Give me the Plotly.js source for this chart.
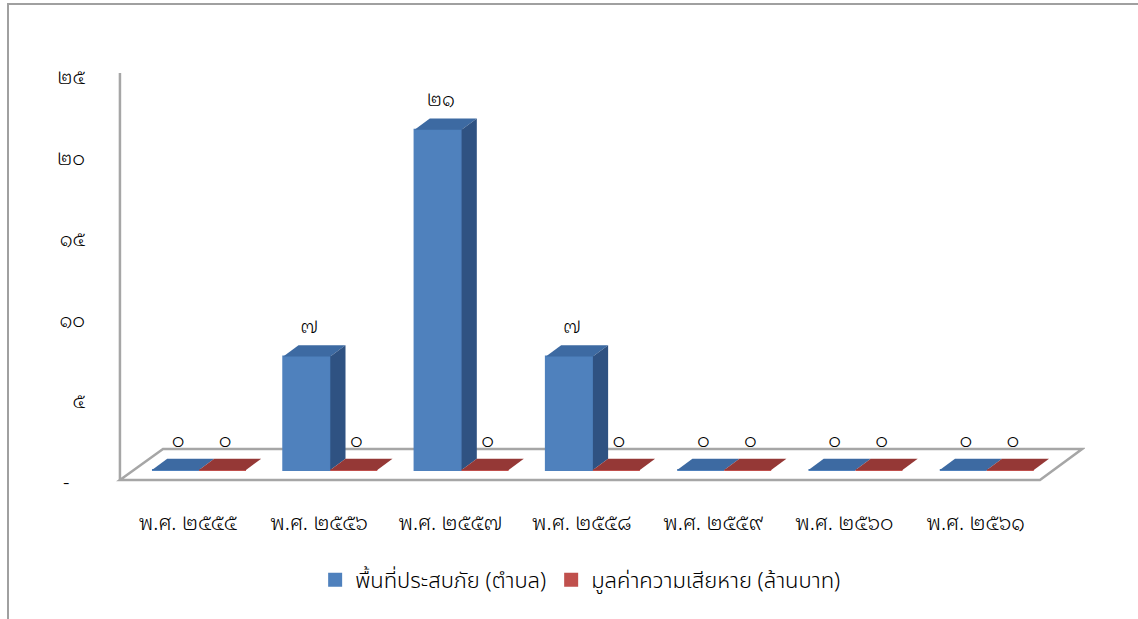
<!DOCTYPE html>
<html>
<head>
<meta charset="utf-8">
<script src="https://cdn.plot.ly/plotly-3.0.1.min.js"></script>
<style>
  html, body { margin: 0; padding: 0; background: #fff; }
  #frame { position: absolute; left: 7px; top: 3px; width: 1131px; height: 616px;
           border-left: 2px solid #a0a0a0; border-top: 2px solid #a0a0a0; box-sizing: border-box; }
  #chart { position: absolute; left: 0; top: 0; width: 1138px; height: 619px; }
</style>
</head>
<body>
<div id="frame"></div>
<div id="chart"></div>
<script>
// ---- data ----
const categories = ['พ.ศ. ๒๕๕๕', 'พ.ศ. ๒๕๕๖', 'พ.ศ. ๒๕๕๗', 'พ.ศ. ๒๕๕๘', 'พ.ศ. ๒๕๕๙', 'พ.ศ. ๒๕๖๐', 'พ.ศ. ๒๕๖๑'];
const areaValues = [0, 7, 21, 7, 0, 0, 0];      // พื้นที่ประสบภัย (ตำบล)
const damageValues = [0, 0, 0, 0, 0, 0, 0];     // มูลค่าความเสียหาย (ล้านบาท)
const areaLabels = ['๐', '๗', '๒๑', '๗', '๐', '๐', '๐'];
const damageLabels = ['๐', '๐', '๐', '๐', '๐', '๐', '๐'];
const seriesNames = ['พื้นที่ประสบภัย (ตำบล)', 'มูลค่าความเสียหาย (ล้านบาท)'];
const yTickVals = [0, 5, 10, 15, 20, 25];
const yTickText = ['-\u00a0\u00a0\u00a0', '๕', '๑๐', '๑๕', '๒๐', '๒๕'];

// ---- style / geometry ----
const FONT = '"Noto Sans Thai Looped", "Noto Serif Thai", Loma, Garuda, Norasi, Kinnari, Waree, "TlwgTypo", "Noto Sans Thai", Tahoma, "DejaVu Sans", sans-serif';
const LFONT = '"Noto Sans Thai", Tahoma, "DejaVu Sans", sans-serif';
const BW = 0.358;          // bar width (category units)
const OFF_A = -0.274;      // offset of first series
const OFF_B = OFF_A + BW;  // offset of second series
const DX = 0.116;          // depth x
const DY = 0.70;           // depth y
const xRange = [-0.548, 6.832];
const yRange = [-1.111, 25.31];
const LABEL_SHIFT = 0.74;

const colors = {
  a: { front: '#4F81BD', top: '#3D6AA2', side: '#2F5282' },
  b: { front: '#C0504D', top: '#953836', side: '#7A2C2A' }
};

const traces = [];
const n = categories.length;

function addFaces(values, off, c) {
  values.forEach((v, i) => {
    const x0 = i + off, x1 = x0 + BW;
    traces.push({
      x: [x0, x0 + DX, x1 + DX, x1, x0], y: [v, v + DY, v + DY, v, v],
      mode: 'lines', fill: 'toself', fillcolor: c.top, line: { width: 0, color: c.top },
      hoverinfo: 'skip', showlegend: false
    });
    if (v > 0) {
      traces.push({
        x: [x1, x1 + DX, x1 + DX, x1, x1], y: [0, DY, v + DY, v, 0],
        mode: 'lines', fill: 'toself', fillcolor: c.side, line: { width: 0, color: c.side },
        hoverinfo: 'skip', showlegend: false
      });
    }
  });
}

traces.push({
  type: 'bar', name: seriesNames[0], x: categories.map((_, i) => i), y: areaValues,
  offset: OFF_A, width: BW, marker: { color: colors.a.front, line: { color: colors.a.front, width: 2 } },
  hoverinfo: 'y'
});
traces.push({
  type: 'bar', name: seriesNames[1], x: categories.map((_, i) => i), y: damageValues,
  offset: OFF_B, width: BW, marker: { color: colors.b.front, line: { color: colors.b.front, width: 2 } },
  hoverinfo: 'y'
});
addFaces(areaValues, OFF_A, colors.a);
addFaces(damageValues, OFF_B, colors.b);

function labelTrace(values, labels, off) {
  return {
    x: values.map((_, i) => i + off + BW / 2 + 0.02),
    y: values.map(v => v + DY + 1.05),
    text: labels, mode: 'text', textposition: 'middle center',
    textfont: { family: FONT, size: 20, color: '#000', weight: 300 },
    hoverinfo: 'skip', showlegend: false, cliponaxis: false
  };
}
traces.push(labelTrace(areaValues, areaLabels, OFF_A));
traces.push(labelTrace(damageValues, damageLabels, OFF_B));

traces.push({ x: [0], y: [0], yaxis: 'y2', mode: 'markers', marker: { opacity: 0 },
  hoverinfo: 'skip', showlegend: false });

// floor + wall lines (decoration, below traces)
const fx0 = xRange[0] + 0.03, fx1 = n - 0.511, bx0 = -0.19, bx1 = n - 0.19;
const fy = -0.617, by = 1.296;
const floorLine = { color: '#a6a6a6', width: 2.5 };
const shapes = [
  { type: 'path', xref: 'x', yref: 'y', layer: 'below', line: floorLine,
    path: `M${fx0},${fy} L${fx1},${fy} L${bx1},${by} L${bx0},${by} Z` },
  { type: 'line', xref: 'x', yref: 'y', layer: 'below', line: floorLine,
    x0: fx0, x1: fx0, y0: fy, y1: 24.5 }
];

const layout = {
  width: 1138, height: 619,
  margin: { l: 116, r: 53, t: 60, b: 131 },
  paper_bgcolor: 'rgba(0,0,0,0)', plot_bgcolor: 'rgba(0,0,0,0)',
  barmode: 'overlay',
  showlegend: true,
  shapes: shapes,
  xaxis: {
    range: xRange, tickmode: 'array', tickvals: categories.map((_, i) => i), ticktext: categories,
    showgrid: false, zeroline: false, showline: false,
    ticks: 'outside', ticklen: 16, tickcolor: 'rgba(0,0,0,0)',
    tickfont: { family: FONT, size: 21, color: '#000', weight: 300 }, fixedrange: true
  },
  yaxis: {
    range: yRange, showgrid: false, zeroline: false, showline: false,
    showticklabels: false, ticks: '', fixedrange: true
  },
  yaxis2: {
    range: [yRange[0] + LABEL_SHIFT, yRange[1] + LABEL_SHIFT], overlaying: 'y', side: 'left',
    tickmode: 'array', tickvals: yTickVals, ticktext: yTickText,
    showgrid: false, zeroline: false, showline: false,
    ticks: 'outside', ticklen: 26, tickcolor: 'rgba(0,0,0,0)',
    tickfont: { family: FONT, size: 20, color: '#000', weight: 300 }, fixedrange: true
  },
  legend: {
    orientation: 'h', x: 0.479, xanchor: 'center', y: -0.215, yanchor: 'middle',
    font: { family: LFONT, size: 22, color: '#000', weight: 300 }, traceorder: 'normal',
    itemwidth: 30, tracegroupgap: 0
  }
};

Plotly.newPlot('chart', traces, layout, { staticPlot: true, displayModeBar: false });
</script>
</body>
</html>
